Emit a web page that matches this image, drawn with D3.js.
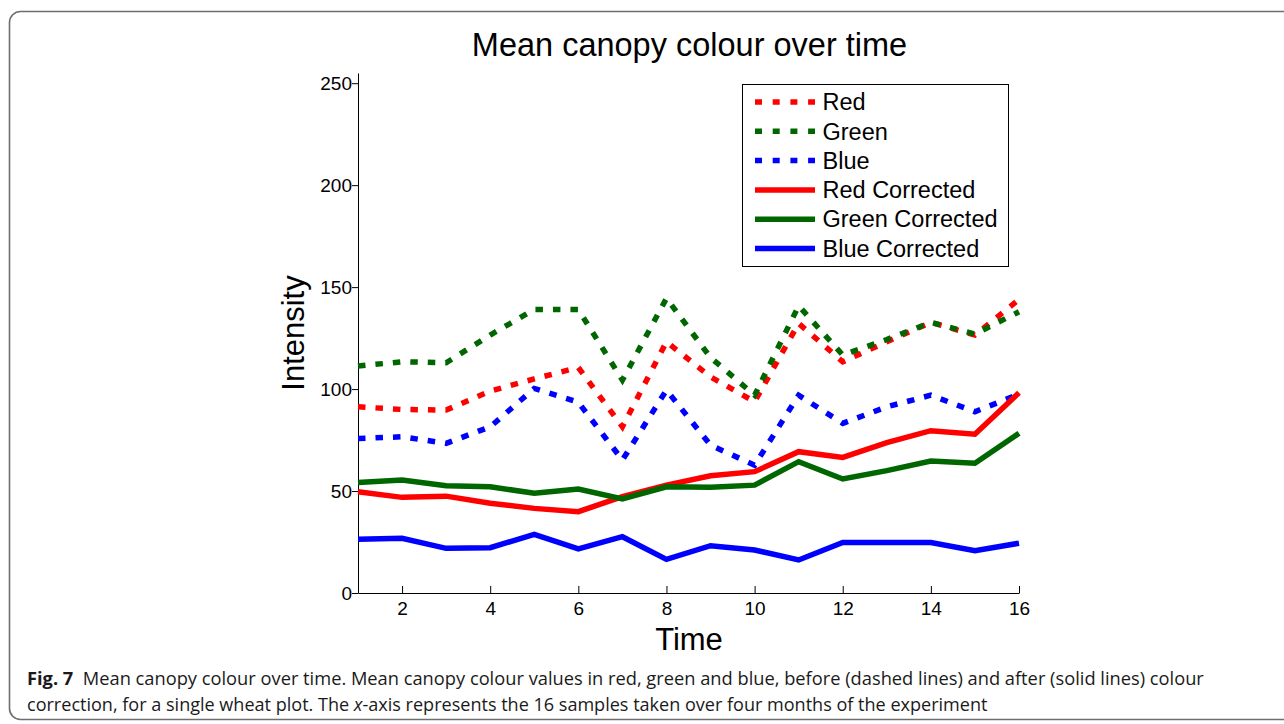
<!DOCTYPE html>
<html>
<head>
<meta charset="utf-8">
<script src="https://cdn.jsdelivr.net/npm/d3@7/dist/d3.min.js"></script>
<style>
  html, body { margin: 0; padding: 0; background: #fff; }
  svg { display: block; }
  text { font-family: "Liberation Sans", Arial, Helvetica, sans-serif; fill: #000; }
  .caption text, text.caption { font-family: "Open Sans", "Noto Sans", sans-serif; fill: #1a1a1a; }
</style>
</head>
<body>
<svg id="chart" width="1284" height="724"></svg>
<script>
// Sample index (16 samples over the season)
const samples = d3.range(1, 17);

// Mean canopy colour before correction
const redRaw   = [91.3, 90.0, 89.7, 99.0, 105.0, 110.6, 81.5, 123.2, 106.0, 93.8, 132.2, 113.4, 123.2, 132.7, 126.5, 144.0];
const greenRaw = [111.3, 113.4, 112.9, 126.5, 139.0, 139.0, 104.4, 144.5, 115.5, 97.0, 140.8, 116.7, 124.3, 132.7, 127.0, 137.9];
const blueRaw  = [75.8, 76.6, 73.4, 81.5, 100.3, 93.5, 65.2, 99.5, 72.5, 62.7, 97.0, 83.2, 91.3, 97.0, 88.9, 97.5];

// Mean canopy colour after correction
const redCorr   = [49.7, 46.9, 47.5, 44.0, 41.5, 39.9, 47.2, 52.9, 57.5, 59.5, 69.3, 66.5, 73.7, 79.6, 77.9, 98.2];
const greenCorr = [54.2, 55.4, 52.6, 52.1, 48.9, 51.0, 46.1, 52.1, 51.8, 52.9, 64.4, 55.9, 60.0, 64.7, 63.6, 78.3];
const blueCorr  = [26.3, 26.8, 21.9, 22.2, 28.8, 21.6, 27.6, 16.5, 23.2, 21.1, 16.2, 24.8, 24.8, 24.8, 20.7, 24.4];

const xTicks = [2, 4, 6, 8, 10, 12, 14, 16];
const yTicks = [0, 50, 100, 150, 200, 250];

const seriesNames = ["Red", "Green", "Blue", "Red Corrected", "Green Corrected", "Blue Corrected"];
const seriesColors = ["#ff0000", "#006600", "#0000ff", "#ff0000", "#006600", "#0000ff"];
const seriesDashed = [true, true, true, false, false, false];
const seriesValues = [redRaw, greenRaw, blueRaw, redCorr, greenCorr, blueCorr];

const svg = d3.select("#chart");

// Figure frame
svg.append("rect")
  .attr("x", 9.5).attr("y", 11.5)
  .attr("width", 1320).attr("height", 708)
  .attr("rx", 11).attr("ry", 11)
  .attr("fill", "none")
  .attr("stroke", "#6e6e6e")
  .attr("stroke-width", 1.6);

const plot = { left: 358, right: 1019, top: 73, bottom: 593 };

const x = d3.scaleLinear().domain([1, 16]).range([plot.left, plot.right]);
const y = d3.scaleLinear().domain([0, 255]).range([plot.bottom, plot.top]);

// Title
svg.append("text")
  .attr("x", 689.5).attr("y", 56)
  .attr("text-anchor", "middle")
  .style("font-size", "32.5px")
  .text("Mean canopy colour over time");

// X axis (ticks point into the plot)
const xAxis = svg.append("g")
  .attr("transform", `translate(0,${plot.bottom})`)
  .call(d3.axisBottom(x).tickValues(xTicks).tickSize(-7).tickPadding(18).tickSizeOuter(0));
xAxis.select(".domain").attr("stroke", "#000").attr("stroke-width", 1);
xAxis.selectAll(".tick line").attr("stroke", "#000");
xAxis.selectAll(".tick text").style("font-size", "19px").attr("fill", "#000").attr("dy", "0.71em").attr("y", 9);

// Y axis
const yAxis = svg.append("g")
  .attr("transform", `translate(${plot.left},0)`)
  .call(d3.axisLeft(y).tickValues(yTicks).tickSize(6).tickPadding(0).tickSizeOuter(0));
yAxis.select(".domain").attr("stroke", "#000").attr("stroke-width", 1);
yAxis.selectAll(".tick line").attr("stroke", "#000");
yAxis.selectAll(".tick text").style("font-size", "19px").attr("fill", "#000");

// Axis titles
svg.append("text")
  .attr("x", 689).attr("y", 650)
  .attr("text-anchor", "middle")
  .style("font-size", "31px")
  .text("Time");

svg.append("text")
  .attr("transform", "translate(304,333) rotate(-90)")
  .attr("text-anchor", "middle")
  .style("font-size", "31px")
  .text("Intensity");

// Series lines
const line = d3.line()
  .x((d, i) => x(samples[i]))
  .y(d => y(d));

const lines = svg.append("g");
seriesValues.forEach((vals, k) => {
  lines.append("path")
    .datum(vals)
    .attr("d", line)
    .attr("fill", "none")
    .attr("stroke", seriesColors[k])
    .attr("stroke-width", 5.5)
    .attr("stroke-linejoin", "miter")
    .attr("stroke-dasharray", seriesDashed[k] ? "7.5,10" : null);
});

// Legend
const legend = svg.append("g").attr("transform", "translate(742.5,84.5)");
legend.append("rect")
  .attr("width", 266).attr("height", 182)
  .attr("fill", "#fff")
  .attr("stroke", "#000")
  .attr("stroke-width", 1);
seriesNames.forEach((name, k) => {
  const row = legend.append("g").attr("transform", `translate(0,${17.5 + k * 29.3})`);
  row.append("line")
    .attr("x1", 12.5).attr("x2", 72.5)
    .attr("stroke", seriesColors[k])
    .attr("stroke-width", 5.5)
    .attr("stroke-dasharray", seriesDashed[k] ? "7,10.7" : null);
  row.append("text")
    .attr("x", 80).attr("y", 0)
    .attr("dy", "0.35em")
    .style("font-size", "23.5px")
    .text(name);
});

// Caption
const caption = svg.append("g").attr("class", "caption");
function captionLine(yPos, width, parts) {
  const t = caption.append("text")
    .attr("x", 0).attr("y", 0)
    .style("font-size", "18px");
  parts.forEach(p => {
    const s = t.append("tspan").text(p.text);
    if (p.bold) s.style("font-weight", "700");
    if (p.italic) s.style("font-style", "italic");
  });
  const w = t.node().getComputedTextLength();
  t.attr("transform", `translate(27,${yPos}) scale(${width / w},1)`);
}
captionLine(685, 1178, [
  { text: "Fig. 7", bold: true },
  { text: "\u00a0\u00a0Mean canopy colour over time. Mean canopy colour values in red, green and blue, before (dashed lines) and after (solid lines) colour" }
]);
captionLine(711, 961, [
  { text: "correction, for a single wheat plot. The " },
  { text: "x", italic: true },
  { text: "-axis represents the 16 samples taken over four months of the experiment" }
]);
</script>
</body>
</html>
